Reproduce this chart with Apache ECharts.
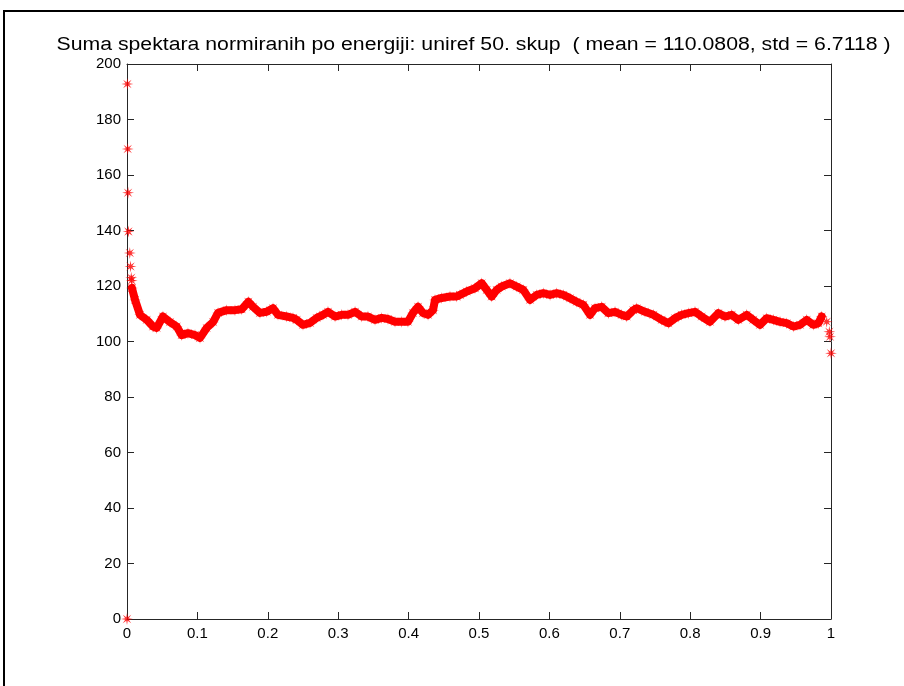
<!DOCTYPE html>
<html>
<head>
<meta charset="utf-8">
<script src="https://cdn.jsdelivr.net/npm/echarts@6/dist/echarts.min.js"></script>
<style>
html,body{margin:0;padding:0;background:#fff;}
#chart{width:904px;height:686px;}
</style>
</head>
<body>
<div id="chart"></div>
<script>
const titleText = 'Suma spektara normiranih po energiji: uniref 50. skup  ( mean = 110.0808, std = 6.7118 )';
const xTicks = [0, 0.1, 0.2, 0.3, 0.4, 0.5, 0.6, 0.7, 0.8, 0.9, 1];
const yTicks = [0, 20, 40, 60, 80, 100, 120, 140, 160, 180, 200];

const xValues = [
  0, 0.0005, 0.001, 0.0015, 0.002, 0.004, 0.005, 0.006, 0.0067, 0.007, 0.0114, 0.0185,
  0.0280, 0.0369, 0.0422, 0.0511, 0.0611, 0.0706, 0.0777, 0.0866, 0.0966, 0.1037,
  0.1132, 0.1222, 0.1293, 0.1416, 0.1534, 0.1629, 0.1723, 0.1790, 0.1889, 0.1984,
  0.2074, 0.2145, 0.2268, 0.2358, 0.2411, 0.2500, 0.2600, 0.2695, 0.2784, 0.2855,
  0.2955, 0.3050, 0.3139, 0.3239, 0.3334, 0.3423, 0.3523, 0.3618, 0.3707, 0.3807,
  0.3902, 0.3991, 0.4062, 0.4134, 0.4205, 0.4276, 0.4347, 0.4375, 0.4470, 0.4588,
  0.4683, 0.4730, 0.4825, 0.4943, 0.5038, 0.5109, 0.5180, 0.5251, 0.5322, 0.5440,
  0.5536, 0.5629, 0.5724, 0.5820, 0.5913, 0.6009, 0.6104, 0.6197, 0.6293, 0.6388,
  0.6482, 0.6577, 0.6648, 0.6743, 0.6837, 0.6932, 0.7027, 0.7098, 0.7192, 0.7240,
  0.7358, 0.7476, 0.7595, 0.7689, 0.7784, 0.7879, 0.7973, 0.8068, 0.8163, 0.8281,
  0.8399, 0.8494, 0.8590, 0.8683, 0.8803, 0.8896, 0.8991, 0.9087, 0.9180, 0.9276,
  0.9371, 0.9465, 0.9560, 0.9655, 0.9749, 0.9820, 0.9868, 0.9939, 0.9976, 0.9986, 1.0
];
const yValues = [
  0, 192.8, 169.4, 153.6, 139.6, 131.9, 127.0, 123.0, 122.0, 119.3, 115.0, 109.6,
  107.8, 105.4, 104.9, 109.0, 107.0, 105.4, 102.3, 103.0, 102.3, 101.3,
  104.9, 107.0, 110.3, 111.3, 111.3, 111.6, 114.3, 112.5, 110.3, 110.7,
  112.0, 109.6, 109.0, 108.5, 107.8, 106.0, 106.7, 108.5, 109.6, 110.7,
  109.0, 109.6, 109.6, 110.7, 109.0, 109.0, 107.8, 108.5, 108.1, 107.1,
  107.1, 107.1, 110.3, 112.5, 110.3, 109.6, 111.3, 115.0, 115.7, 116.2,
  116.2, 116.8, 118.0, 119.2, 121.0, 118.6, 116.2, 118.6, 119.8, 121.0,
  119.8, 118.6, 115.0, 116.8, 117.4, 116.8, 117.4, 116.8, 115.6, 114.3,
  113.2, 109.6, 112.0, 112.5, 110.2, 110.7, 109.6, 109.0, 111.3, 112.0,
  110.7, 109.6, 107.8, 106.6, 108.4, 109.6, 110.2, 110.7, 109.0, 107.1,
  110.2, 109.0, 109.6, 107.8, 109.6, 107.8, 106.0, 108.4, 107.8, 107.1,
  106.6, 105.4, 106.0, 107.8, 106.0, 106.6, 109.0, 107.1, 103.5, 101.7, 95.8
];

const points = xValues.map((x, i) => [x, yValues[i]]);
// dense band part (markers overlap into a continuous band there)
const bandPoints = points.slice(9, 119);
const starPath = 'path://M5,0 L1.48,0.61 L3.54,3.54 L0.61,1.48 L0,5 L-0.61,1.48 L-3.54,3.54 L-1.48,0.61 L-5,0 L-1.48,-0.61 L-3.54,-3.54 L-0.61,-1.48 L0,-5 L0.61,-1.48 L3.54,-3.54 L1.48,-0.61 Z';

const axisColor = '#262626';
const fontFam = '"Liberation Sans", Arial, sans-serif';

const chart = echarts.init(document.getElementById('chart'), null, {renderer: 'canvas'});

function axisCommon(extra) {
  return Object.assign({
    axisLine: {show: true, onZero: false, lineStyle: {color: axisColor, width: 1}},
    axisTick: {show: true, inside: true, length: 7, lineStyle: {color: axisColor}},
    splitLine: {show: false}
  }, extra);
}
const pick = (arr) => v => { const t = arr.find(k => Math.abs(k - v) < 1e-9); return t === undefined ? '' : String(t); };

chart.setOption({
  animation: false,
  backgroundColor: '#fff',
  graphic: [{
    type: 'rect', silent: true, z: -1,
    shape: {x: 4, y: 11, width: 1000, height: 1000},
    style: {fill: 'none', stroke: '#000', lineWidth: 2}
  }, {
    type: 'text', silent: true,
    x: 473.5, y: 45, scaleX: 1.18,
    style: {text: titleText, font: '18px ' + fontFam, fill: '#000', align: 'center', verticalAlign: 'middle'}
  }],
  grid: {left: 127, right: 73, top: 64, bottom: 67, containLabel: false},
  xAxis: [
    axisCommon({type: 'value', min: 0, max: 1, interval: 0.1, position: 'bottom',
      axisLabel: {show: true, margin: 7, fontFamily: fontFam, fontSize: 15, color: '#000', formatter: pick(xTicks)}}),
    axisCommon({type: 'value', min: 0, max: 1, interval: 0.1, position: 'top', axisLabel: {show: false}})
  ],
  yAxis: [
    axisCommon({type: 'value', min: 0, max: 200, interval: 20, position: 'left',
      axisLabel: {show: true, margin: 6, fontFamily: fontFam, fontSize: 15, color: '#000', formatter: pick(yTicks)}}),
    axisCommon({type: 'value', min: 0, max: 200, interval: 20, position: 'right', axisLabel: {show: false}})
  ],
  series: [{
    type: 'line',
    data: bandPoints,
    showSymbol: false,
    lineStyle: {color: '#ff0000', width: 8, join: 'round', cap: 'round'},
    clip: false,
    z: 2
  }, {
    type: 'scatter',
    data: points,
    symbol: starPath,
    symbolSize: 12,
    itemStyle: {color: '#ff0000'},
    clip: false,
    z: 3
  }]
});
</script>
</body>
</html>
